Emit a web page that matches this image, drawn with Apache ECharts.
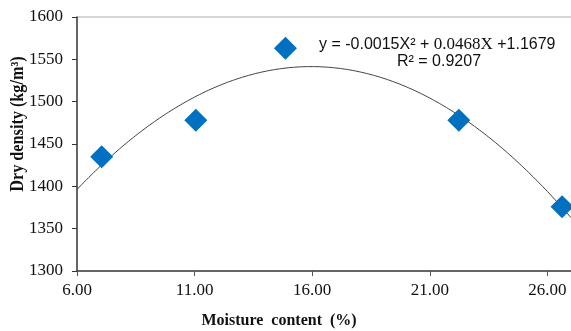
<!DOCTYPE html>
<html>
<head>
<meta charset="utf-8">
<script src="https://cdn.jsdelivr.net/npm/echarts@6/dist/echarts.min.js"></script>
<style>
  html, body { margin: 0; padding: 0; background: #fff; }
  #chart { width: 571px; height: 331px; }
</style>
</head>
<body>
<div id="chart"></div>
<script>
// measured points
const moisture = [7.05, 11.05, 14.86, 22.23, 26.62];
const dryDensity = [1435, 1478, 1563, 1478, 1376];

// axis ticks
const xTicks = [6, 11, 16, 21, 26];
const xEnd = 27;
const yTicks = [1300, 1350, 1400, 1450, 1500, 1550, 1600];

// trendline labels as printed on the chart
const eqParts = ['y = -0.0015X\u00b2 + ', '0.0468X', ' +1.1679'];
const r2Label = 'R\u00b2 = 0.9207';

// polynomial (order 2) trendline: least squares fit of the measured points
function quadFit(xs, ys) {
  const S = [0, 0, 0, 0, 0], T = [0, 0, 0];
  xs.forEach((x, i) => {
    for (let k = 0; k < 5; k++) S[k] += Math.pow(x, k);
    for (let k = 0; k < 3; k++) T[k] += ys[i] * Math.pow(x, k);
  });
  const M = [
    [S[0], S[1], S[2], T[0]],
    [S[1], S[2], S[3], T[1]],
    [S[2], S[3], S[4], T[2]],
  ];
  for (let c = 0; c < 3; c++) {
    for (let r = c + 1; r < 3; r++) {
      const f = M[r][c] / M[c][c];
      for (let k = c; k < 4; k++) M[r][k] -= f * M[c][k];
    }
  }
  const coef = [0, 0, 0];
  for (let r = 2; r >= 0; r--) {
    let s = M[r][3];
    for (let k = r + 1; k < 3; k++) s -= M[r][k] * coef[k];
    coef[r] = s / M[r][r];
  }
  return x => coef[0] + coef[1] * x + coef[2] * x * x;
}

const fit = quadFit(moisture, dryDensity);
const trend = [];
for (let x = xTicks[0]; x <= xEnd + 1e-9; x += 0.1) trend.push([x, fit(x)]);

const chart = echarts.init(document.getElementById('chart'));
const serif = '"Liberation Serif", "Times New Roman", serif';
const sans = '"Liberation Sans", Arial, sans-serif';

// only the top grid line is drawn (light grey)
const splitColors = yTicks.map((v, i) => (i === yTicks.length - 1 ? '#c8c8c8' : 'rgba(0,0,0,0)'));

chart.setOption({
  animation: false,
  grid: { left: 77, right: 0, top: 17, bottom: 60 },
  xAxis: {
    type: 'value',
    min: xTicks[0],
    max: xEnd,
    interval: xTicks[1] - xTicks[0],
    axisLine: { lineStyle: { color: '#333', width: 1.5 } },
    axisTick: { show: true, length: 5, lineStyle: { color: '#555' } },
    axisLabel: {
      color: '#111', fontFamily: serif, fontSize: 17, margin: 11,
      showMaxLabel: false,
      formatter: v => (xTicks.indexOf(v) >= 0 ? v.toFixed(2) : ''),
    },
    splitLine: { show: false },
  },
  yAxis: {
    type: 'value',
    min: yTicks[0],
    max: yTicks[yTicks.length - 1],
    interval: yTicks[1] - yTicks[0],
    axisLine: { show: true, lineStyle: { color: '#333', width: 1.5 } },
    axisTick: { show: true, length: 5, lineStyle: { color: '#333' } },
    axisLabel: { color: '#111', fontFamily: serif, fontSize: 17, margin: 14, formatter: v => String(v) },
    splitLine: { show: true, lineStyle: { color: splitColors, width: 1.5 } },
  },
  series: [
    {
      type: 'line',
      data: trend,
      showSymbol: false,
      lineStyle: { color: '#404040', width: 1 },
      z: 1,
    },
    {
      type: 'scatter',
      data: moisture.map((x, i) => [x, dryDensity[i]]),
      symbol: 'diamond',
      symbolSize: 23,
      itemStyle: { color: '#0070C0', opacity: 1 },
      z: 2,
    },
  ],
  graphic: [
    {
      type: 'text',
      left: 319, top: 36,
      style: {
        text: '{a|' + eqParts[0] + '}{b|' + eqParts[1] + '}{a|' + eqParts[2] + '}',
        rich: {
          a: { fontFamily: sans, fontSize: 16, fill: '#111' },
          b: { fontFamily: serif, fontSize: 17, fill: '#111' },
        },
      },
    },
    {
      type: 'text',
      left: 397, top: 54,
      style: { text: r2Label, fontFamily: sans, fontSize: 16, fill: '#111' },
    },
    {
      type: 'text',
      x: 18, y: 124, rotation: Math.PI / 2,
      scaleX: 0.9,
      style: {
        text: 'Dry density (kg/m\u00b3)',
        fontFamily: serif, fontSize: 18, fontWeight: 'bold', fill: '#111',
        align: 'center', verticalAlign: 'middle',
      },
    },
    {
      type: 'text',
      x: 279, y: 321,
      style: {
        text: 'Moisture  content  (%)',
        fontFamily: serif, fontSize: 16, fontWeight: 'bold', fill: '#111',
        align: 'center', verticalAlign: 'middle',
      },
    },
  ],
});
</script>
</body>
</html>
